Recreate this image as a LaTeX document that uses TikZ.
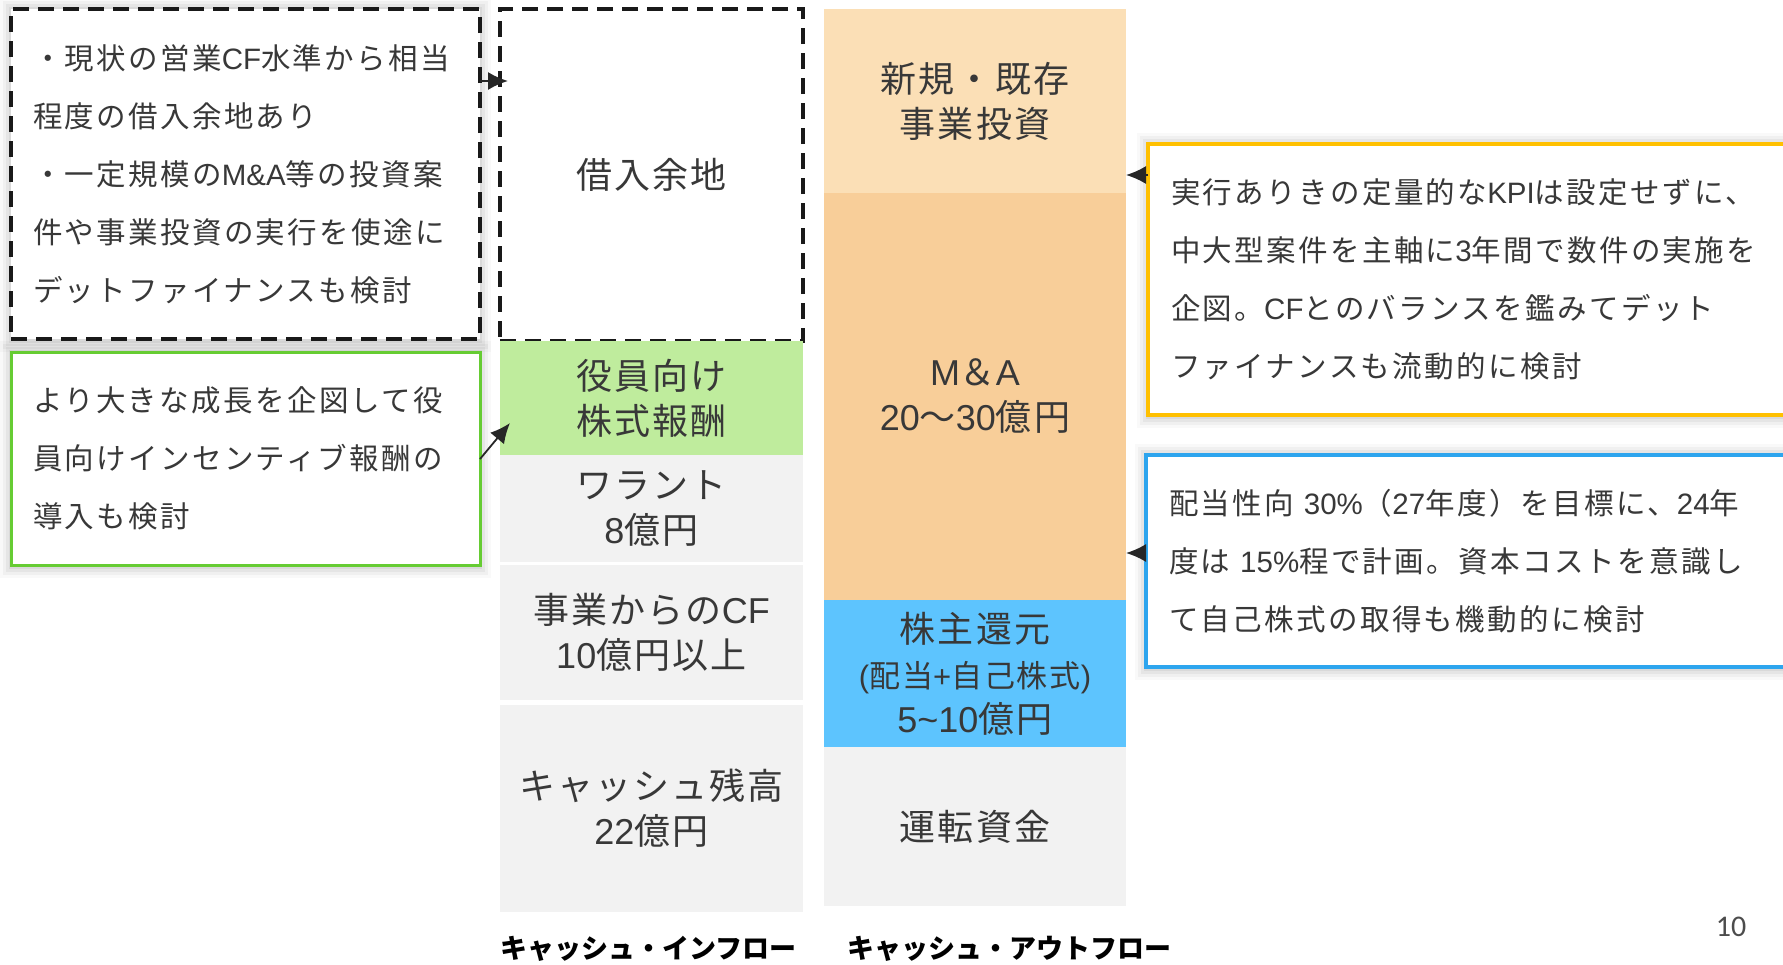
\documentclass[tikz,border=0pt]{standalone}
\usepackage{fontspec}
\setmainfont{Noto Sans CJK JP}[LetterSpace=6]
\newfontfamily\cojp{Noto Sans CJK JP}[LetterSpace=8]
\newfontfamily\jpplain{Noto Sans CJK JP}
\newfontfamily\lat{Liberation Sans}
\newfontfamily\numfont{Carlito}
\newcommand\la[1]{{\lat #1}}
\usetikzlibrary{arrows.meta,calc,backgrounds}
\definecolor{txt}{HTML}{383838}
\definecolor{grnfill}{HTML}{BFEC9D}
\definecolor{peachA}{HTML}{FBDFB6}
\definecolor{peachB}{HTML}{F8CE99}
\definecolor{bluefill}{HTML}{5DC4FE}
\definecolor{grayfill}{HTML}{F2F2F2}
\definecolor{grnline}{HTML}{66CC33}
\definecolor{yelline}{HTML}{FFC000}
\definecolor{bluline}{HTML}{2DA5EE}
\newcommand\blkfont{\fontsize{36}{45}\selectfont}
\newcommand\smallblk{\fontsize{31}{41}\selectfont}
\newcommand\cofont{\cojp\fontsize{29.5}{58}\selectfont}
\newcommand\glowaround[1]{%
  \begin{scope}[on background layer]
    \clip (0,0) rectangle (1783,964);
    \foreach \d/\o in {11/0.025,8/0.035,5/0.045,2/0.05}{
      \fill[black,opacity=\o] ($(#1.north west)+(-\d,-\d)$) rectangle ($(#1.south east)+(\d,\d+2)$);
    }
  \end{scope}}
\begin{document}
\begin{tikzpicture}[x=1pt,y=-1pt,
  every node/.style={inner sep=0pt, outer sep=0pt},
  blk/.style={anchor=north west, align=center, font=\blkfont, text=txt, minimum width=#1},
  blk/.default=303pt,
  callout/.style={anchor=north west, fill=white, align=left, font=\cofont, text=txt, inner xsep=22pt},
  dashbox/.style={draw=black!90, line width=3.5pt, dash pattern=on 16pt off 9pt},
  arr/.style={-{Latex[length=20pt,width=18pt]}, line width=1.8pt, draw=black!85},
  collabel/.style={anchor=base west, font=\jpplain\bfseries\fontsize{27}{30}\selectfont, text=black}]
\useasboundingbox (0,0) rectangle (1783,964);
\begin{scope}[on background layer]
  \fill[white] (0,0) rectangle (1783,964);
\end{scope}
\clip (0,0) rectangle (1783,964);

% ---------- inflow column ----------
\node[blk, fill=white, dashbox, minimum height=332pt] (loan) at (500,9) {借入余地};
\node[blk, fill=grnfill, minimum height=114pt] (yakuin) at (500,341) {役員向け\\株式報酬};
\node[blk, fill=grayfill, minimum height=107pt] (warrant) at (500,455) {ワラント\\\la{8}億円};
\node[blk, fill=grayfill, minimum height=135pt] (bizcf) at (500,565) {事業からの\la{CF}\\\la{10}億円以上};
\node[blk, fill=grayfill, minimum height=207pt] (cash) at (500,705) {キャッシュ残高\\\la{22}億円};

% ---------- outflow column ----------
\node[blk=302pt, fill=peachA, minimum height=184pt] (shinki) at (824,9) {新規・既存\\事業投資};
\node[blk=302pt, fill=peachB, minimum height=407pt] (ma) at (824,193) {\la{M}＆\la{A}\\\la{20}〜\la{30}億円};
\node[blk=302pt, fill=bluefill, minimum height=147pt] (kabu) at (824,600) {株主還元\\{\smallblk\la{(}配当\la{+}自己株式\la{)}}\\\la{5\char`\~10}億円};
\node[blk=302pt, fill=grayfill, minimum height=159pt] (unten) at (824,747) {運転資金};

% ---------- callouts ----------
\node[callout, dashbox, minimum width=467pt, minimum height=330pt, text width=425pt] (cb1) at (11,9)
  {・現状の営業\la{CF}水準から相当\\程度の借入余地あり\\・一定規模の\la{M\&A}等の投資案\\件や事業投資の実行を使途に\\デットファイナンスも検討};
\glowaround{cb1}

\node[callout, draw=grnline, line width=3pt, minimum width=469pt, minimum height=213pt, text width=425pt] (cb2) at (11,352)
  {より大きな成長を企図して役\\員向けインセンティブ報酬の\\導入も検討};
\glowaround{cb2}

\node[callout, draw=yelline, line width=4pt, minimum width=700pt, minimum height=271pt, text width=654pt] (cb3) at (1148,144)
  {実行ありきの定量的な\la{KPI}は設定せずに、\\中大型案件を主軸に\la{3}年間で数件の実施を\\企図。\la{CF}とのバランスを鑑みてデット\\ファイナンスも流動的に検討};
\glowaround{cb3}

\node[callout, draw=bluline, line width=3.5pt, minimum width=700pt, minimum height=212pt, text width=654pt] (cb4) at (1146,455)
  {配当性向 \la{30\%}（\la{27}年度）を目標に、\la{24}年\\度は \la{15\%}程で計画。資本コストを意識し\\て自己株式の取得も機動的に検討};
\glowaround{cb4}

% ---------- connectors ----------
\draw[arr] (cb1.east |- 0,81) -- ($(loan.west |- 0,81)+(8,0)$);
\draw[arr] (cb2.east |- 0,459) -- ($(yakuin.south west)+(10,-32)$);
\draw[arr] (cb3.west |- 0,175) -- (shinki.east |- 0,175);
\draw[arr] (cb4.west |- 0,553) -- (ma.east |- 0,553);

% ---------- labels ----------
\node[collabel] (inlab) at (500,958) {キャッシュ・インフロー};
\node[collabel] (outlab) at (847,958) {キャッシュ・アウトフロー};
\node[font=\numfont\fontsize{30}{32}\selectfont, text=black!70] (pageno) at (1731,927) {10};
\end{tikzpicture}
\end{document}
